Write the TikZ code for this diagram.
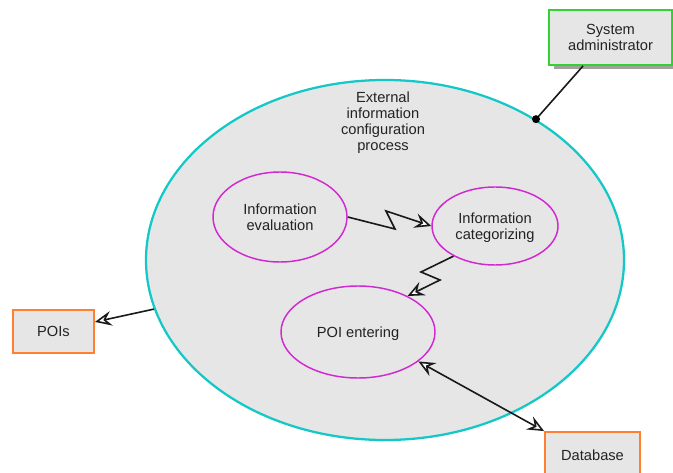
\documentclass[tikz,border=0pt]{standalone}
\usepackage{fontspec}
\setmainfont{Liberation Sans}
\usetikzlibrary{shapes.geometric,arrows.meta,calc}
\definecolor{procfill}{RGB}{230,230,230}
\definecolor{proccyan}{RGB}{20,200,200}
\definecolor{submag}{RGB}{210,40,210}
\definecolor{actgreen}{RGB}{50,210,50}
\definecolor{actorange}{RGB}{255,128,50}
\definecolor{shadowgray}{RGB}{160,160,160}
\definecolor{inktext}{RGB}{35,35,35}
\tikzset{hollow/.tip={Stealth[open, length=12.5pt, width=11pt, inset=4.5pt, fill=white]}}
\begin{document}
\begin{tikzpicture}[x=0.75pt,y=-0.75pt,
  every node/.style={font=\fontsize{11pt}{12pt}\selectfont, text=inktext, align=center, text depth=0pt},
  process/.style={ellipse, draw=proccyan, line width=1.7pt, fill=procfill, inner sep=0pt},
  subproc/.style={ellipse, draw=submag, line width=1.1pt, fill=procfill, inner sep=0pt},
  actor/.style={rectangle, fill=procfill, line width=1.4pt, inner sep=0pt},
  link/.style={draw=black!90, line width=1.2pt},
  opentip/.style={-{hollow}},
  dualtip/.style={{hollow}-{hollow}}
]
\useasboundingbox (0,0) rectangle (673,473);

% main process
\node[process, minimum width=478*0.75pt, minimum height=360*0.75pt] (proc) at (385,260) {};
\node (proclabel) at (383,121) {External\\information\\configuration\\process};

% sub-processes
\node[subproc, minimum width=134*0.75pt, minimum height=90*0.75pt] (eval) at (280,217) {Information\\evaluation};
\node[subproc, minimum width=126*0.75pt, minimum height=78*0.75pt] (cat) at (495,226) {Information\\categorizing};
\node[subproc, minimum width=154*0.75pt, minimum height=92*0.75pt] (poi) at (358,332) {POI entering};

% actors
\fill[shadowgray] (554,14) rectangle (678,69);
\node[actor, draw=actgreen, minimum width=123*0.75pt, minimum height=55*0.75pt] (sys) at (610.5,37.5) {System\\administrator};
\node[actor, draw=actorange, minimum width=81*0.75pt, minimum height=43*0.75pt] (pois) at (53.5,331.5) {POIs};
\node[actor, draw=actorange, minimum width=95*0.75pt, minimum height=46*0.75pt] (db) at (592.5,455) {Database};

% connectors
\draw[link] (sys.226.6) -- (proc.43.5);
\fill[black] (proc.43.5) circle (4);
\draw[link, opentip] (proc.192) -- (pois.13);
\draw[link, opentip, line join=miter] (eval.east) -- (395,229) -- (386,211) -- (cat.west);
\draw[link, opentip, line join=miter] (cat.216) -- (421,272) -- (440,280) -- (poi.36);
\draw[link, dualtip] (poi.-26) -- (db.north west);
\end{tikzpicture}
\end{document}
